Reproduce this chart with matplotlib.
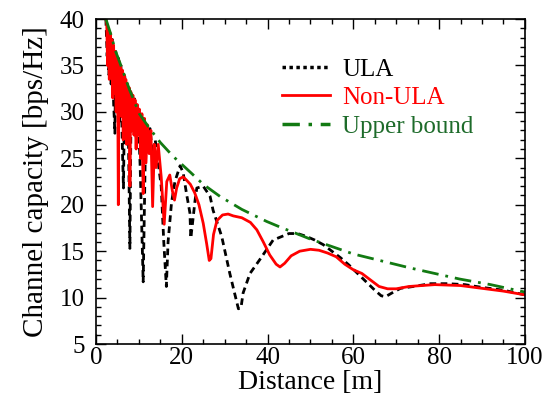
import matplotlib
matplotlib.use("Agg")
import matplotlib.pyplot as plt
from matplotlib.lines import Line2D
from matplotlib.ticker import MultipleLocator

plt.rcParams['font.family'] = ['Liberation Serif', 'DejaVu Serif']

# Upper bound
ub_x = [2.3, 3.0, 3.5, 4.5, 5.8, 7.8, 10.1, 12.2, 15, 18, 22, 25, 28.9, 34, 39.8,
        42.9, 50, 60, 73.2, 84.8, 92, 100]
ub_y = [40.0, 39.0, 38.3, 36.6, 35.0, 32.4, 29.8, 28.4, 26.7, 25.2, 23.5, 22.2, 20.9,
        19.5, 18.2, 17.6, 16.3, 14.7, 13.2, 12.0, 11.4, 10.6]

# Non-ULA
nu_x = [2.3, 2.5, 2.7, 2.9, 3.1, 3.3, 3.5, 3.7, 3.9, 4.1, 4.3, 4.5, 4.7, 4.9, 5.1, 5.2,
        5.35, 5.55, 5.75, 5.95, 6.15, 6.35, 6.55, 6.75, 6.95, 7.15, 7.35, 7.55, 7.75,
        7.9, 8.1, 8.35, 8.6, 8.85, 9.1, 9.35, 9.6, 9.85, 10.1, 10.4, 10.7, 11.0, 11.3,
        11.65, 12.0, 12.4, 12.8, 13.2, 13.6, 14.0, 14.5, 15.2, 15.9, 16.5, 17.2, 17.8,
        18.3, 18.8, 19.5, 20.3, 21, 22, 23, 24, 25, 25.8, 26.4, 26.8, 27.4, 28.2, 29.5,
        30.8, 32, 34, 36, 37.5, 39, 40.5, 42, 42.9, 44, 45.5, 47.5, 50, 52, 54, 56, 58,
        60, 62, 64, 66, 68, 70, 73, 79, 85, 90, 95, 100]
nu_y = [40.0, 39.5, 35, 38.8, 33.5, 38.5, 34, 37.8, 31.5, 37.2, 32, 36.5, 30, 36, 29, 20.0,
        35.5, 30, 35, 29.5, 34.5, 27, 34, 28.5, 33.5, 26.5, 33, 29, 32.6,
        22.0, 32.2, 28, 31.8, 27.5, 31.3, 26, 30.8, 27.5, 30.3, 25, 29.8, 21.2, 29.3,
        24.5, 28.6, 25.5, 28.0, 19.8, 26.5, 24, 26.5, 23, 17.9, 22.5, 23.2, 21.5,
        20.5, 21.8, 22.8, 23.0, 22.7, 22.2, 21.3, 20.0, 18.0, 15.8, 14.0, 14.2, 16.8, 18.3, 18.9,
        19.0, 18.8, 18.6, 18.1, 17.3, 16.0, 14.6, 13.6, 13.3, 13.7, 14.5, 15.0, 15.2, 15.1, 14.8, 14.4, 13.6,
        13.0, 12.6, 11.9, 11.2, 10.95, 10.95, 11.2, 11.4, 11.3, 11.0, 10.7, 10.3]

# ULA
ula_x = [2.3, 2.6, 2.8, 3.0, 3.2, 3.5, 3.8, 4.1, 4.4, 4.6, 4.9, 5.2, 5.5, 5.8, 6.1, 6.4,
         6.7, 7.0, 7.3, 7.6, 7.9, 8.2, 8.6, 9.0, 9.4, 9.8, 10.3, 11.0, 11.6, 12.0, 12.6,
         13.2, 13.8, 14.5, 15.2, 15.8, 16.4, 16.8, 17.6, 18.4, 19.6, 20.3, 21.1, 21.9, 22.1,
         22.5, 23.1, 23.5, 25, 26.6, 27.3, 29.3, 31.2, 32.3, 33.2, 33.8, 34.3, 35.9, 38.2,
         41.3, 45, 47, 49, 51, 53, 55, 57, 59, 61, 63, 65, 66.5, 67.5, 69, 71, 74, 78, 82,
         86, 90, 95, 100]
ula_y = [40.0, 36, 39, 34, 38.6, 33, 37.8, 31, 27.7, 36.5, 32, 35.8, 29, 35, 27, 21.8,
         33.8, 30, 33, 26, 15.3, 32.2, 28, 31.4, 27, 30.3, 24, 11.7, 28.6, 27, 28.2,
         25, 27, 24.5, 22, 16, 11.2, 16, 20.2, 22.5, 24.2, 23.5, 21.2, 19.1, 16.4,
         18, 20.5, 21.8, 22.0, 20.9, 19.4, 16.6, 12.6, 10.5, 8.8, 8.9, 10.5, 12.6, 14.1,
         16.2, 16.9, 16.9, 16.6, 16.2, 15.7, 15.0, 14.3, 13.5, 12.6, 11.7, 10.8, 10.2, 10.1,
         10.5, 11.0, 11.2, 11.5, 11.5, 11.4, 11.1, 10.8, 10.3]

x_ticks = [0, 20, 40, 60, 80, 100]
y_ticks = [5, 10, 15, 20, 25, 30, 35, 40]

GREEN = '#127a12'
fig = plt.figure(figsize=(5.56, 4.01), dpi=100)
ax = fig.add_axes([0.1727, 0.142, 0.944 - 0.1727, 0.9526 - 0.142])

ax.plot(ula_x, ula_y, color='black', lw=2.0, linestyle=(0, (2.4, 1.6)))
ax.plot(nu_x, nu_y, color='#ff0000', lw=2.0)
ax.plot(ub_x, ub_y, color=GREEN, lw=2.0, linestyle=(0, (6, 2.5, 1, 2.5)))

ax.set_xlim(0, 100)
ax.set_ylim(5, 40)
ax.set_xticks(x_ticks)
ax.set_yticks(y_ticks)
ax.xaxis.set_minor_locator(MultipleLocator(5))
ax.yaxis.set_minor_locator(MultipleLocator(1))
ax.tick_params(which='both', direction='in', top=True, right=True, labelsize=18,
               labelfontfamily='Liberation Serif')
ax.tick_params(which='major', length=7, width=1)
ax.tick_params(axis='y', which='major', pad=8)
ax.tick_params(axis='x', which='major', pad=2)
ax.tick_params(which='minor', length=3.5, width=1)
for s in ax.spines.values():
    s.set_linewidth(1.2)

ax.set_xlabel('Distance [m]', fontsize=20, labelpad=1)
ax.set_ylabel('Channel capacity [bps/Hz]', fontsize=21, labelpad=8)

handles = [Line2D([], [], color='black', lw=2.5, linestyle=(0, (1, 1))),
           Line2D([], [], color='#ff0000', lw=2.0),
           Line2D([], [], color=GREEN, lw=2.5, linestyle=(0, (5, 2.5, 1, 2.5)))]
leg = ax.legend(handles, ['ULA', 'Non-ULA', 'Upper bound'], loc='upper left',
                bbox_to_anchor=(0.434, 0.88), frameon=False, fontsize=18,
                handlelength=1.9, handletextpad=0.5, labelspacing=0.24,
                borderpad=0, borderaxespad=0)
for t, c in zip(leg.get_texts(), ['black', '#ff0000', '#1d6b2a']):
    t.set_color(c)

fig.savefig('out.png', dpi=100)
